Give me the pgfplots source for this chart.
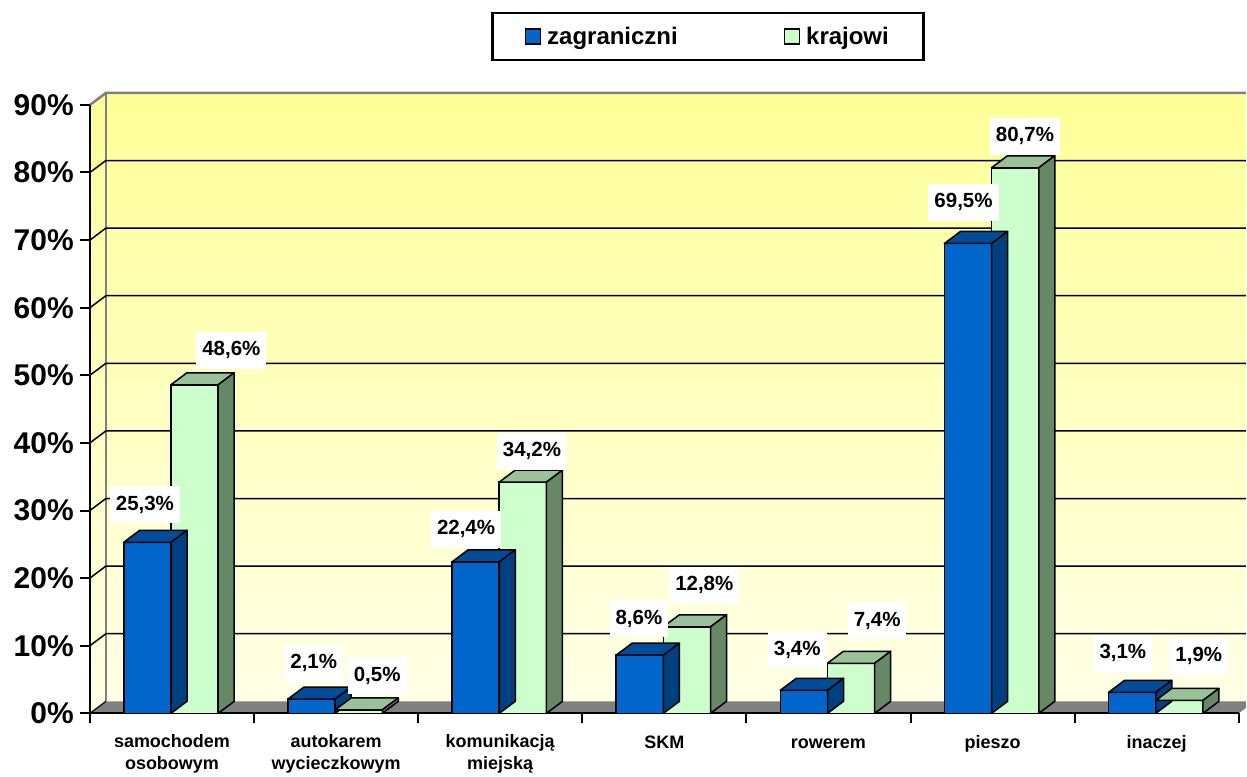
\documentclass[border=0pt]{standalone}
\usepackage{fontspec}
\setmainfont{Liberation Sans}
\usepackage{pgfplots}
\usepackage{pgfplotstable}
\pgfplotsset{compat=1.18}

\definecolor{bfront}{HTML}{0066CC}
\definecolor{btop}{HTML}{004C99}
\definecolor{bside}{HTML}{003F80}
\definecolor{gfront}{HTML}{CCFFCC}
\definecolor{gtop}{HTML}{99C299}
\definecolor{gside}{HTML}{668866}
\definecolor{walltop}{HTML}{FFFF99}
\definecolor{wallbot}{HTML}{FFFFE6}
\definecolor{floorgray}{HTML}{808080}

% 1pt here = 1px of the reference
\def\hw{23.65}    % half bar width
\def\dx{16}       % depth offset
\def\dy{12}
\def\yu{6.76667}  % pt per percent (609pt / 90)

% top and side faces of a bar, origin at the front top centre
\pgfdeclareplotmark{boxB}{%
  \pgfmathsetmacro{\hh}{\hv*\yu}%
  \path[fill=btop, draw=black, line width=1.5pt, line join=round]
    (-\hw pt,0pt) -- ++(\dx pt,\dy pt) -- ++(2*\hw pt,0pt) -- (\hw pt,0pt) -- cycle;
  \path[fill=bside, draw=black, line width=1.5pt, line join=round]
    (\hw pt,0pt) -- ++(\dx pt,\dy pt) -- ++(0pt,-\hh pt) -- (\hw pt,-\hh pt) -- cycle;
}
\pgfdeclareplotmark{boxG}{%
  \pgfmathsetmacro{\hh}{\hv*\yu}%
  \path[fill=gtop, draw=black, line width=1.5pt, line join=round]
    (-\hw pt,0pt) -- ++(\dx pt,\dy pt) -- ++(2*\hw pt,0pt) -- (\hw pt,0pt) -- cycle;
  \path[fill=gside, draw=black, line width=1.5pt, line join=round]
    (\hw pt,0pt) -- ++(\dx pt,\dy pt) -- ++(0pt,-\hh pt) -- (\hw pt,-\hh pt) -- cycle;
}

% z = zagraniczni, k = krajowi, bx/by kx/ky = label offsets
\pgfplotstableread{
z     k     bx    by    kx    ky
25.3  48.6  -2.5  37.8  36.8  34.6
2.1   0.5   2.2   35.8  18.5  34.1
22.4  34.2  -9.6  32.9  9.2   31.1
8.6   12.8  -0.9  36.3  17.4  41.4
3.4   7.4   -6.7  40.5  26.1  42.4
69.5  80.7  -4.5  41.2  9.8   31.4
3.1   1.9   -9.3  39.0  19.5  44.1
}\data

\pgfplotsset{
  vallabel/.style={
    nodes near coords={\pgfmathprintnumber[fixed,fixed zerofill,precision=1,use comma,assume math mode=true]{\pgfplotspointmeta}\%},
    every node near coord/.append style={anchor=center, fill=white,
      font=\fontsize{20.5}{20.5}\selectfont\bfseries, text=black,
      inner xsep=6pt, inner ysep=9.5pt, text height=14.5pt, text depth=3.5pt}
  }
}

\begin{document}
\begin{tikzpicture}
\path (0,0) rectangle (1247pt,774pt);
\begin{axis}[
  at={(90pt,60pt)}, anchor=south west,
  scale only axis, width=1150pt, height=609pt,
  xmin=-0.5, xmax=6.5, ymin=0, ymax=90, enlargelimits=false,
  clip=false, set layers,
  axis lines*=left, axis line style={black, line width=2pt},
  tick align=outside, major tick length=10pt,
  tick style={black, line width=2pt},
  xtick={-0.5,0.5,1.5,2.5,3.5,4.5,5.5,6.5}, x tick label as interval,
  xticklabels={{samochodem\\osobowym},{autokarem\\wycieczkowym},{komunikacją\\miejską},SKM,rowerem,pieszo,inaczej},
  xticklabel style={align=center, font=\fontsize{18}{22}\selectfont\bfseries,
    anchor=north, yshift=-8pt, execute at begin node={\rule{0pt}{14pt}}},
  ytick={0,10,...,90},
  yticklabel={\pgfmathprintnumber[assume math mode=true]{\tick}\%},
  yticklabel style={font=\fontsize{30}{30}\selectfont\bfseries, inner xsep=6pt},
  legend columns=2,
  legend style={at={(0.5378,1.1125)}, anchor=center, draw=black, line width=2.5pt,
    font=\fontsize{24}{24}\selectfont\bfseries, inner xsep=32.5pt, inner ysep=12pt,
    /tikz/every odd column/.append style={column sep=4pt},
    /tikz/every even column/.append style={column sep=104pt}},
]
\begin{pgfonlayer}{axis background}
  \shade[top color=walltop, bottom color=wallbot]
    ([xshift=16pt,yshift=12pt]axis cs:-0.5,0) rectangle ([xshift=7pt,yshift=12pt]axis cs:6.5,90);
  \shade[top color=walltop, bottom color=wallbot]
    (axis cs:-0.5,0) -- ++(16pt,12pt) -- ([xshift=16pt,yshift=12pt]axis cs:-0.5,90) -- (axis cs:-0.5,90) -- cycle;
  \fill[floorgray] (axis cs:-0.5,0) -- ++(16pt,12pt) -- ([xshift=7pt,yshift=12pt]axis cs:6.5,0)
    -- ([xshift=7pt,yshift=5.25pt]axis cs:6.5,0) -- (axis cs:6.5,0) -- cycle;
  \draw[floorgray, line width=2.5pt] ([xshift=16pt,yshift=12pt]axis cs:-0.5,0) -- ([xshift=16pt,yshift=12pt]axis cs:-0.5,90);
  \draw[floorgray, line width=2.5pt] (axis cs:-0.5,90) -- ++(16pt,12pt) -- ([xshift=7pt,yshift=12pt]axis cs:6.5,90);
\end{pgfonlayer}
\begin{pgfonlayer}{axis grid}
  \pgfplotsinvokeforeach{10,20,30,40,50,60,70,80}{
    \draw[black, line width=1.5pt] (axis cs:-0.5,#1) -- ++(16pt,12pt) -- ([xshift=7pt,yshift=12pt]axis cs:6.5,#1);
  }
  \draw[black, line width=1.2pt] (axis cs:-0.5,0) -- ++(16pt,12pt);
\end{pgfonlayer}

% zagraniczni
\addplot[ybar, bar width=47.3pt, bar shift=0pt, fill=bfront, draw=black, line width=1.5pt,
  legend image code/.code={\draw[fill=bfront, draw=black, line width=1.5pt] (0pt,-7.5pt) rectangle (15pt,7.5pt);}]
  table[x expr=\coordindex-0.1497, y=z] {\data};
\addlegendentry{zagraniczni}
\addplot[only marks, mark=boxB, forget plot, visualization depends on={\thisrow{z} \as \hv}]
  table[x expr=\coordindex-0.1497, y=z] {\data};

% krajowi
\addplot[ybar, bar width=47.3pt, bar shift=0pt, fill=gfront, draw=black, line width=1.5pt,
  legend image code/.code={\draw[fill=gfront, draw=black, line width=1.5pt] (0pt,-7.5pt) rectangle (15pt,7.5pt);}]
  table[x expr=\coordindex+0.1376, y=k] {\data};
\addlegendentry{krajowi}
\addplot[only marks, mark=boxG, forget plot, visualization depends on={\thisrow{k} \as \hv}]
  table[x expr=\coordindex+0.1376, y=k] {\data};

% value labels
\addplot[draw=none, forget plot, vallabel,
  visualization depends on={\thisrow{bx} \as \lx},
  visualization depends on={\thisrow{by} \as \ly},
  every node near coord/.append style={xshift=\lx pt, yshift=\ly pt}]
  table[x expr=\coordindex-0.1497, y=z] {\data};
\addplot[draw=none, forget plot, vallabel,
  visualization depends on={\thisrow{kx} \as \lx},
  visualization depends on={\thisrow{ky} \as \ly},
  every node near coord/.append style={xshift=\lx pt, yshift=\ly pt}]
  table[x expr=\coordindex+0.1376, y=k] {\data};
\end{axis}
\end{tikzpicture}
\end{document}
